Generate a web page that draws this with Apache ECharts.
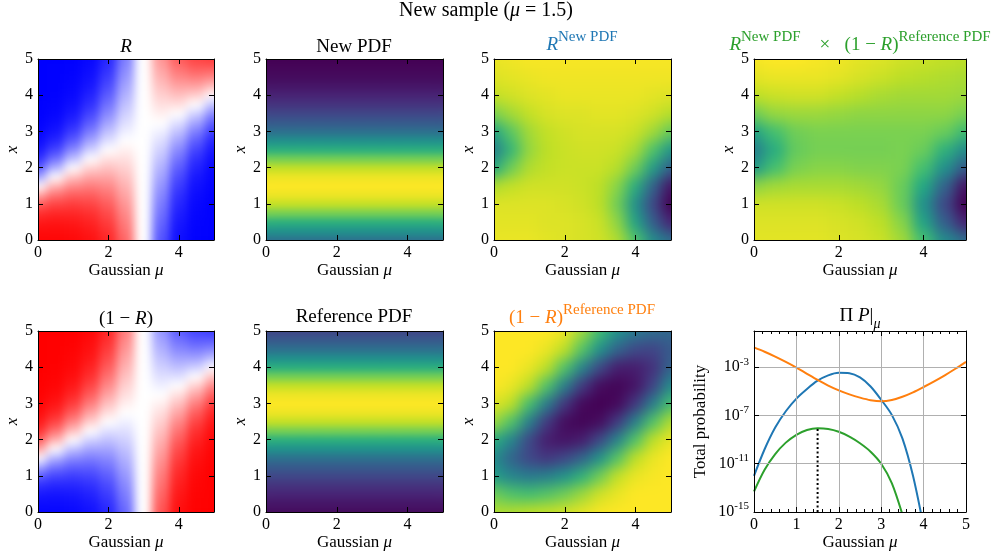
<!DOCTYPE html>
<html>
<head>
<meta charset="utf-8">
<script src="https://cdn.jsdelivr.net/npm/echarts@6/dist/echarts.min.js"></script>
<style>
  html, body { margin: 0; padding: 0; background: #fff; }
  #wrap { position: relative; width: 995px; height: 559px; }
  #chart { position: absolute; left: 0; top: 0; width: 995px; height: 559px; }
  .cell-box { position: absolute; overflow: hidden; }
  .cell-inner { position: absolute; }
</style>
</head>
<body>
<div id="wrap">
  <div id="heat"></div>
  <div id="chart"></div>
</div>
<script>
// grid nodes (Gaussian mu across, x up)
const muNodes = [0, 0.5, 1, 1.5, 2, 2.5, 3, 3.5, 4, 4.5, 5];
const xNodes = [0, 0.5, 1, 1.5, 2, 2.5, 3, 3.5, 4, 4.5, 5];
const xFine = [0, 0.25, 0.5, 0.75, 1, 1.25, 1.5, 1.75, 2, 2.25, 2.5, 2.75, 3, 3.25, 3.5, 3.75, 4, 4.25, 4.5, 4.75, 5];

// colour level of the two pdf panels, one value per xFine row
const newPdf = [0.37, 0.50, 0.63, 0.79, 0.91, 0.975, 1.0, 0.975, 0.91, 0.79, 0.63, 0.50, 0.37, 0.28, 0.21, 0.15, 0.10, 0.06, 0.03, 0.015, 0.0];
const refPdf = [0.03, 0.06, 0.10, 0.15, 0.21, 0.28, 0.37, 0.50, 0.63, 0.79, 0.91, 0.975, 1.0, 0.975, 0.91, 0.79, 0.63, 0.50, 0.37, 0.28, 0.21];

// R: rows = xFine (bottom to top), columns = muNodes
const rGrid = [
  [0.989, 0.988, 0.982, 0.967, 0.924, 0.798, 0.5, 0.165, 0.029, 0.004, 0.0],
  [0.977, 0.977, 0.971, 0.953, 0.905, 0.777, 0.5, 0.182, 0.037, 0.005, 0.001],
  [0.953, 0.958, 0.953, 0.932, 0.881, 0.755, 0.5, 0.202, 0.047, 0.008, 0.001],
  [0.905, 0.924, 0.924, 0.905, 0.852, 0.731, 0.5, 0.223, 0.060, 0.011, 0.002],
  [0.818, 0.867, 0.881, 0.867, 0.818, 0.706, 0.5, 0.245, 0.076, 0.016, 0.002],
  [0.679, 0.777, 0.818, 0.818, 0.777, 0.679, 0.5, 0.269, 0.095, 0.023, 0.004],
  [0.5, 0.651, 0.731, 0.755, 0.731, 0.651, 0.5, 0.294, 0.119, 0.033, 0.007],
  [0.321, 0.5, 0.622, 0.679, 0.679, 0.622, 0.5, 0.321, 0.148, 0.047, 0.011],
  [0.182, 0.349, 0.5, 0.593, 0.622, 0.593, 0.5, 0.349, 0.182, 0.068, 0.018],
  [0.095, 0.223, 0.378, 0.5, 0.562, 0.562, 0.5, 0.378, 0.223, 0.095, 0.029],
  [0.047, 0.133, 0.269, 0.407, 0.5, 0.531, 0.5, 0.407, 0.269, 0.133, 0.047],
  [0.023, 0.076, 0.182, 0.321, 0.438, 0.5, 0.5, 0.438, 0.321, 0.182, 0.076],
  [0.011, 0.042, 0.119, 0.245, 0.378, 0.469, 0.5, 0.469, 0.378, 0.245, 0.119],
  [0.005, 0.023, 0.076, 0.182, 0.321, 0.438, 0.5, 0.5, 0.438, 0.321, 0.182],
  [0.002, 0.012, 0.047, 0.133, 0.269, 0.407, 0.5, 0.531, 0.5, 0.407, 0.269],
  [0.001, 0.007, 0.029, 0.095, 0.223, 0.378, 0.5, 0.562, 0.562, 0.5, 0.378],
  [0.0, 0.004, 0.018, 0.068, 0.182, 0.349, 0.5, 0.593, 0.622, 0.593, 0.5],
  [0.0, 0.002, 0.011, 0.047, 0.148, 0.321, 0.5, 0.622, 0.679, 0.679, 0.622],
  [0.0, 0.001, 0.007, 0.033, 0.119, 0.294, 0.5, 0.651, 0.731, 0.755, 0.731],
  [0.0, 0.001, 0.004, 0.023, 0.095, 0.269, 0.5, 0.679, 0.777, 0.818, 0.818],
  [0.0, 0.0, 0.002, 0.016, 0.076, 0.245, 0.5, 0.706, 0.818, 0.867, 0.881]
];
// the viridis panels: rows = xNodes (bottom to top), columns = muNodes
const rNewGrid = [
  [0.97, 0.97, 0.97, 0.96, 0.95, 0.94, 0.93, 0.88, 0.72, 0.48, 0.36],
  [0.96, 0.96, 0.96, 0.95, 0.95, 0.94, 0.92, 0.83, 0.58, 0.30, 0.10],
  [0.95, 0.95, 0.95, 0.95, 0.94, 0.93, 0.90, 0.78, 0.50, 0.22, 0.0],
  [0.88, 0.91, 0.93, 0.93, 0.93, 0.92, 0.90, 0.82, 0.62, 0.32, 0.05],
  [0.60, 0.78, 0.88, 0.91, 0.92, 0.92, 0.92, 0.89, 0.78, 0.55, 0.30],
  [0.42, 0.66, 0.84, 0.90, 0.92, 0.93, 0.93, 0.92, 0.87, 0.72, 0.52],
  [0.58, 0.74, 0.86, 0.91, 0.93, 0.94, 0.94, 0.94, 0.92, 0.86, 0.76],
  [0.80, 0.86, 0.91, 0.94, 0.95, 0.95, 0.96, 0.96, 0.95, 0.93, 0.89],
  [0.91, 0.93, 0.95, 0.96, 0.97, 0.97, 0.97, 0.97, 0.97, 0.96, 0.95],
  [0.95, 0.96, 0.97, 0.98, 0.98, 0.98, 0.98, 0.98, 0.98, 0.98, 0.98],
  [0.97, 0.98, 0.99, 0.99, 0.99, 0.99, 0.99, 0.99, 0.99, 0.99, 0.99]
];
const prodGrid = [
  [0.96, 0.96, 0.96, 0.96, 0.95, 0.94, 0.92, 0.86, 0.70, 0.48, 0.36],
  [0.95, 0.95, 0.95, 0.95, 0.94, 0.93, 0.90, 0.82, 0.58, 0.30, 0.10],
  [0.93, 0.93, 0.93, 0.93, 0.92, 0.90, 0.87, 0.77, 0.50, 0.22, 0.0],
  [0.83, 0.86, 0.87, 0.87, 0.87, 0.86, 0.84, 0.77, 0.60, 0.32, 0.05],
  [0.54, 0.70, 0.80, 0.82, 0.82, 0.81, 0.81, 0.80, 0.70, 0.50, 0.28],
  [0.42, 0.62, 0.76, 0.79, 0.79, 0.79, 0.79, 0.80, 0.77, 0.64, 0.48],
  [0.58, 0.70, 0.78, 0.80, 0.80, 0.80, 0.80, 0.80, 0.80, 0.77, 0.68],
  [0.78, 0.84, 0.85, 0.85, 0.84, 0.83, 0.83, 0.83, 0.83, 0.83, 0.80],
  [0.90, 0.92, 0.93, 0.93, 0.91, 0.89, 0.87, 0.86, 0.86, 0.86, 0.85],
  [0.96, 0.97, 0.97, 0.97, 0.96, 0.94, 0.92, 0.90, 0.89, 0.88, 0.87],
  [0.99, 1.00, 1.00, 0.99, 0.98, 0.96, 0.95, 0.93, 0.92, 0.91, 0.90]
];
const oneMinusRRefGrid = [
  [0.88, 0.88, 0.90, 0.91, 0.93, 0.96, 0.99, 1.00, 1.00, 1.00, 1.00],
  [0.78, 0.72, 0.70, 0.73, 0.78, 0.85, 0.93, 0.97, 1.00, 1.00, 1.00],
  [0.55, 0.45, 0.41, 0.43, 0.51, 0.64, 0.78, 0.91, 0.97, 0.99, 1.00],
  [0.48, 0.32, 0.21, 0.16, 0.21, 0.32, 0.51, 0.73, 0.90, 0.97, 1.00],
  [0.62, 0.45, 0.22, 0.08, 0.05, 0.08, 0.22, 0.45, 0.72, 0.90, 0.97],
  [0.85, 0.72, 0.43, 0.17, 0.03, 0.01, 0.03, 0.17, 0.43, 0.72, 0.88],
  [0.95, 0.90, 0.70, 0.42, 0.16, 0.02, 0.00, 0.02, 0.16, 0.42, 0.70],
  [1.00, 0.97, 0.90, 0.72, 0.43, 0.17, 0.03, 0.01, 0.05, 0.20, 0.48],
  [1.00, 1.00, 0.97, 0.90, 0.72, 0.45, 0.22, 0.08, 0.08, 0.14, 0.32],
  [1.00, 1.00, 1.00, 0.97, 0.90, 0.73, 0.50, 0.32, 0.22, 0.20, 0.28],
  [1.00, 1.00, 1.00, 1.00, 0.97, 0.85, 0.68, 0.50, 0.40, 0.35, 0.33]
];

// total probability curves, log10 values
const muLine = [0, 0.25, 0.5, 0.75, 1, 1.25, 1.5, 1.75, 2, 2.25, 2.5, 2.75, 3, 3.25, 3.5, 3.75, 4, 4.25, 4.5, 4.75, 5];
const logBlue = [-12.0, -9.8, -8.0, -6.65, -5.6, -4.8, -4.12, -3.68, -3.47, -3.5, -3.85, -4.6, -5.7, -6.95, -8.9, -12.0, -16.2, null, null, null, null];
const logOrange = [-1.36, -1.72, -2.12, -2.56, -3.03, -3.55, -4.06, -4.52, -4.92, -5.25, -5.52, -5.73, -5.82, -5.72, -5.45, -5.08, -4.64, -4.17, -3.67, -3.13, -2.56];
const logGreen = [-13.3, -11.5, -10.2, -9.25, -8.6, -8.2, -8.06, -8.12, -8.35, -8.75, -9.3, -10.0, -11.0, -12.6, -15.2, null, null, null, null, null, null];
const peakMu = 1.5;
const peakLog = -8.06;

const heatTicksX = [0, 2, 4];
const logTicks = [-3, -7, -11, -15];
const LOG_MIN = -15;

const FONT = 'Liberation Serif';
const VIRIDIS = ['#440154', '#482475', '#414487', '#355f8d', '#2a788e', '#21918c', '#22a884', '#44bf70', '#7ad151', '#bddf26', '#fde725'];
const BWR = ['#0000ff', '#ffffff', '#ff0000'];
const C_BLUE = '#1f77b4', C_ORANGE = '#ff7f0e', C_GREEN = '#2ca02c';

const panels = [
  { l: 38, t: 59, w: 176, h: 181, yGap: 17 },
  { l: 266, t: 59, w: 177, h: 181, yGap: 15 },
  { l: 494, t: 59, w: 177, h: 181, yGap: 15 },
  { l: 754, t: 59, w: 212, h: 181, yGap: 17 },
  { l: 38, t: 331, w: 176, h: 181, yGap: 17 },
  { l: 266, t: 331, w: 177, h: 181, yGap: 15 },
  { l: 494, t: 331, w: 177, h: 181, yGap: 15 },
  { l: 754, t: 331, w: 212, h: 181, yGap: 45 }
];
const LINE = 7;
const PAD = 30;

function gridData(grid, xs) {
  const out = [];
  xs.forEach((x, r) => muNodes.forEach((m, c) => out.push([m, x, grid[r][c]])));
  return out;
}
function bandData(vals) {
  const out = [];
  xFine.forEach((x, r) => muNodes.forEach(m => out.push([m, x, vals[r]])));
  return out;
}

// one rect per cell; cells on the border are stretched outward so the blur does not fade the edges
function cellRenderer(dm, dx) {
  return function (params, api) {
    const m = api.value(0), x = api.value(1);
    const a = api.coord([m - dm / 2, x + dx / 2]);
    const b = api.coord([m + dm / 2, x - dx / 2]);
    let x0 = a[0] - 0.5, x1 = b[0] + 0.5, y0 = a[1] - 0.5, y1 = b[1] + 0.5;
    if (m <= 0) x0 -= PAD;
    if (m >= 5) x1 += PAD;
    if (x >= 5) y0 -= PAD;
    if (x <= 0) y1 += PAD;
    return { type: 'rect', shape: { x: x0, y: y0, width: x1 - x0, height: y1 - y0 }, style: { fill: api.visual('color') } };
  };
}

const heatSpecs = [
  { panel: 0, data: gridData(rGrid, xFine), dx: 0.25, colors: BWR, blur: 5 },
  { panel: 1, data: bandData(newPdf), dx: 0.25, colors: VIRIDIS, blur: 3 },
  { panel: 2, data: gridData(rNewGrid, xNodes), dx: 0.5, colors: VIRIDIS, blur: 7 },
  { panel: 3, data: gridData(prodGrid, xNodes), dx: 0.5, colors: VIRIDIS, blur: 7 },
  { panel: 4, data: gridData(rGrid.map(row => row.map(v => 1 - v)), xFine), dx: 0.25, colors: BWR, blur: 5 },
  { panel: 5, data: bandData(refPdf), dx: 0.25, colors: VIRIDIS, blur: 3 },
  { panel: 6, data: gridData(oneMinusRRefGrid, xNodes), dx: 0.5, colors: VIRIDIS, blur: 7 }
];

// heatmap layers: one small chart per panel, under the axes chart
const heatHost = document.getElementById('heat');
heatSpecs.forEach(s => {
  const p = panels[s.panel];
  const box = document.createElement('div');
  box.className = 'cell-box';
  box.style.cssText = `left:${p.l}px;top:${p.t}px;width:${p.w}px;height:${p.h}px;`;
  const inner = document.createElement('div');
  inner.className = 'cell-inner';
  inner.style.cssText = `left:${-PAD}px;top:${-PAD}px;width:${p.w + 2 * PAD}px;height:${p.h + 2 * PAD}px;filter:blur(${s.blur}px);`;
  box.appendChild(inner);
  heatHost.appendChild(box);
  const hc = echarts.init(inner, null, { renderer: 'canvas' });
  hc.setOption({
    animation: false,
    grid: { left: PAD, top: PAD, width: p.w, height: p.h, containLabel: false, outerBoundsMode: 'none' },
    xAxis: { type: 'value', min: 0, max: 5, show: false },
    yAxis: { type: 'value', min: 0, max: 5, show: false },
    visualMap: { type: 'continuous', show: false, seriesIndex: 0, dimension: 2, min: 0, max: 1, inRange: { color: s.colors } },
    series: [{
      type: 'custom', dimensions: ['mu', 'x', 'v'], encode: { x: 0, y: 1 },
      renderItem: cellRenderer(0.5, s.dx), data: s.data
    }]
  });
});

function titleItem(x, y, text, color, size) {
  const c = color || '#000';
  const fs = size || 19;
  return {
    text: text, left: x, top: y, textAlign: 'center', textVerticalAlign: 'middle', padding: 0,
    textStyle: {
      fontFamily: FONT, fontSize: fs, fontWeight: 'normal', color: c, lineHeight: 30,
      rich: {
        i: { fontFamily: FONT, fontStyle: 'italic', fontSize: fs, color: c, lineHeight: 30 },
        n: { fontFamily: FONT, fontSize: fs, color: c, lineHeight: 30 },
        s: { fontFamily: FONT, fontSize: 15, color: c, lineHeight: 15, verticalAlign: 'top' },
        d: { fontFamily: FONT, fontStyle: 'italic', fontSize: 14, color: c, lineHeight: 18, verticalAlign: 'bottom' }
      }
    }
  };
}

const titles = [
  titleItem(486, 11, 'New sample ({i|μ} = 1.5)', '#000', 20),
  titleItem(126, 47, '{i|R}'),
  titleItem(354, 47, 'New PDF'),
  titleItem(582, 45, '{i|R}{s|New PDF}', C_BLUE),
  titleItem(860, 45, '{i|R}{s|New PDF}{n|    ×   (1 − }{i|R}{n|)}{s|Reference PDF}', C_GREEN),
  titleItem(126, 319, '(1 − {i|R})'),
  titleItem(354, 317, 'Reference PDF'),
  titleItem(582, 318, '{n|(1 − }{i|R}{n|)}{s|Reference PDF}', C_ORANGE),
  titleItem(860, 316, '{n|Π }{i|P}{n||}{d|μ}')
];

const tickLine = { color: '#000', width: 1 };
const labelStyle = { color: '#000', fontFamily: FONT, fontSize: 16 };
const nameStyle = {
  color: '#000', fontFamily: FONT, fontSize: 17,
  rich: { i: { fontFamily: FONT, fontStyle: 'italic', fontSize: 17, color: '#000' } }
};

const xAxes = [], yAxes = [];
panels.forEach((p, i) => {
  const isLine = i === LINE;
  xAxes.push({
    type: 'value', gridIndex: i, position: 'bottom', min: 0, max: 5, interval: isLine ? 1 : 2, z: 10,
    name: 'Gaussian {i|μ}', nameLocation: 'middle', nameGap: 20, nameTextStyle: nameStyle,
    axisLine: { show: true, onZero: false, lineStyle: tickLine },
    axisTick: { show: true, inside: true, length: 5, lineStyle: tickLine },
    minorTick: { show: isLine, splitNumber: 5, length: 3, lineStyle: tickLine },
    axisLabel: Object.assign({ margin: 5, formatter: v => (isLine || heatTicksX.includes(v)) ? String(v) : '' }, labelStyle),
    splitLine: { show: isLine, lineStyle: { color: '#b0b0b0', width: 1 } }
  });
  yAxes.push({
    type: 'value', gridIndex: i, position: 'left', z: 10,
    min: 0, max: isLine ? 15 : 5, interval: isLine ? 4 : 1,
    name: isLine ? 'Total probability' : '{i|x}', nameLocation: 'middle', nameRotate: 90,
    nameGap: p.yGap, nameTextStyle: Object.assign({}, nameStyle, isLine ? {} : { fontSize: 18 }),
    axisLine: { show: true, onZero: false, lineStyle: tickLine },
    axisTick: { show: true, inside: true, length: 5, lineStyle: tickLine },
    axisLabel: Object.assign({
      margin: 5,
      formatter: isLine
        ? v => { const e = Math.round(v + LOG_MIN); return logTicks.includes(e) ? '{b|10}{s|' + e + '}' : ''; }
        : v => String(v),
      rich: {
        b: { fontFamily: FONT, fontSize: 16, color: '#000', lineHeight: 22 },
        s: { fontFamily: FONT, fontSize: 11, color: '#000', lineHeight: 11, verticalAlign: 'top' }
      }
    }, labelStyle),
    splitLine: { show: isLine, lineStyle: { color: '#b0b0b0', width: 1 } }
  });
});
panels.forEach((p, i) => {
  const isLine = i === LINE;
  xAxes.push({
    type: 'value', gridIndex: i, position: 'top', min: 0, max: 5, interval: isLine ? 1 : 2, z: 10,
    axisLine: { show: true, onZero: false, lineStyle: tickLine },
    axisTick: { show: true, inside: true, length: 5, lineStyle: tickLine },
    minorTick: { show: isLine, splitNumber: 5, length: 3, lineStyle: tickLine },
    axisLabel: { show: false }, splitLine: { show: false }
  });
  yAxes.push({
    type: 'value', gridIndex: i, position: 'right', z: 10,
    min: 0, max: isLine ? 15 : 5, interval: isLine ? 4 : 1,
    axisLine: { show: true, onZero: false, lineStyle: tickLine },
    axisTick: { show: true, inside: true, length: 5, lineStyle: tickLine },
    axisLabel: { show: false }, splitLine: { show: false }
  });
});

function logSeries(vals, color) {
  return {
    type: 'line', xAxisIndex: LINE, yAxisIndex: LINE, z: 3,
    showSymbol: false, smooth: 0.3, clip: true,
    lineStyle: { color: color, width: 2 }, itemStyle: { color: color },
    data: muLine.map((m, k) => vals[k] == null ? [m, null] : [m, vals[k] - LOG_MIN])
  };
}
const series = [
  logSeries(logBlue, C_BLUE),
  logSeries(logOrange, C_ORANGE),
  logSeries(logGreen, C_GREEN),
  {
    type: 'line', xAxisIndex: LINE, yAxisIndex: LINE, z: 4, showSymbol: false,
    lineStyle: { color: '#000', width: 2, type: [2, 2.5] },
    data: [[peakMu, 0], [peakMu, peakLog - LOG_MIN]]
  }
];

const chart = echarts.init(document.getElementById('chart'), null, { renderer: 'canvas' });
chart.setOption({
  animation: false,
  backgroundColor: 'transparent',
  title: titles,
  grid: panels.map(p => ({ left: p.l, top: p.t, width: p.w, height: p.h, containLabel: false, outerBoundsMode: 'none' })),
  xAxis: xAxes,
  yAxis: yAxes,
  series: series
});
</script>
</body>
</html>
